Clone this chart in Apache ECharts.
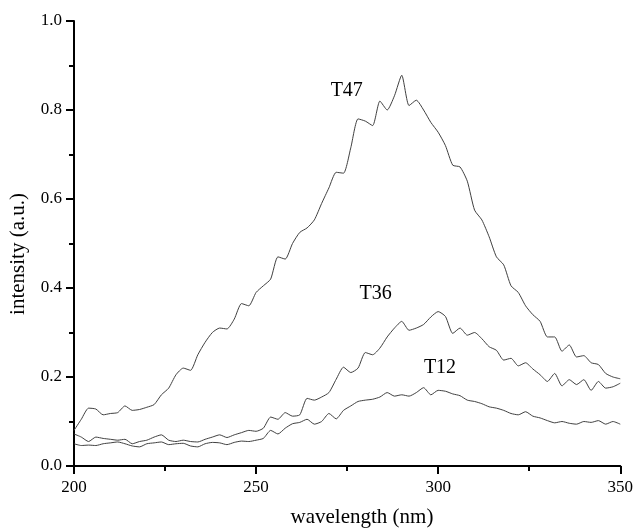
<!DOCTYPE html>
<html>
<head>
<meta charset="utf-8">
<script src="https://cdn.jsdelivr.net/npm/echarts@6/dist/echarts.min.js"></script>
<style>html,body{margin:0;padding:0;background:#fff}#c{width:636px;height:528px}</style>
</head>
<body>
<div id="c"></div>
<script>
const wavelength = [200,202,204,206,208,210,212,214,216,218,220,222,224,226,228,230,232,234,236,238,240,242,244,246,248,250,252,254,256,258,260,262,264,266,268,270,272,274,276,278,280,282,284,286,288,290,292,294,296,298,300,302,304,306,308,310,312,314,316,318,320,322,324,326,328,330,332,334,336,338,340,342,344,346,348,350];
const T47 = [0.08,0.105,0.13,0.128,0.115,0.118,0.12,0.135,0.125,0.127,0.132,0.138,0.16,0.175,0.205,0.22,0.215,0.25,0.278,0.3,0.31,0.308,0.33,0.365,0.36,0.39,0.405,0.42,0.47,0.465,0.5,0.525,0.535,0.553,0.59,0.625,0.66,0.658,0.715,0.78,0.775,0.765,0.82,0.8,0.832,0.878,0.81,0.822,0.8,0.772,0.75,0.72,0.676,0.672,0.64,0.575,0.553,0.515,0.47,0.452,0.405,0.39,0.36,0.34,0.325,0.29,0.29,0.258,0.272,0.245,0.248,0.232,0.228,0.208,0.2,0.196];
const T36 = [0.072,0.065,0.055,0.065,0.062,0.06,0.058,0.06,0.05,0.055,0.058,0.065,0.07,0.058,0.055,0.058,0.055,0.054,0.06,0.065,0.07,0.064,0.07,0.075,0.08,0.078,0.085,0.11,0.105,0.12,0.112,0.115,0.152,0.148,0.155,0.165,0.195,0.222,0.21,0.22,0.255,0.25,0.265,0.29,0.31,0.325,0.305,0.31,0.318,0.335,0.347,0.336,0.298,0.31,0.294,0.3,0.286,0.268,0.26,0.238,0.242,0.225,0.232,0.218,0.205,0.19,0.208,0.18,0.194,0.183,0.194,0.17,0.19,0.175,0.178,0.186];
const T12 = [0.05,0.046,0.047,0.046,0.05,0.052,0.054,0.05,0.045,0.043,0.05,0.052,0.054,0.048,0.05,0.051,0.045,0.043,0.05,0.053,0.052,0.048,0.053,0.056,0.055,0.058,0.062,0.08,0.072,0.085,0.095,0.098,0.105,0.094,0.1,0.118,0.106,0.125,0.135,0.145,0.148,0.15,0.155,0.165,0.157,0.16,0.157,0.165,0.176,0.16,0.17,0.168,0.162,0.158,0.148,0.145,0.14,0.133,0.13,0.125,0.118,0.115,0.122,0.112,0.108,0.102,0.097,0.1,0.096,0.094,0.1,0.098,0.102,0.094,0.1,0.094];
const seriesNames = ['T47','T36','T12'];
const labelAt = [[274.9,0.843],[282.8,0.387],[300.5,0.22]];

const FONT = '"Liberation Serif","Times New Roman",serif';
const chart = echarts.init(document.getElementById('c'), null, {renderer:'canvas'});
const allData = [T47, T36, T12];
const series = allData.map((vals, i) => ({
  name: seriesNames[i],
  type: 'line',
  data: wavelength.map((w, j) => [w, vals[j]]),
  showSymbol: false,
  smooth: 0.2,
  lineStyle: {color: '#404040', width: 1},
  animation: false,
  markPoint: {
    symbol: 'circle', symbolSize: 0,
    label: {show: true, formatter: seriesNames[i], color: '#000', fontFamily: FONT, fontSize: 20, position: 'inside'},
    data: [{coord: labelAt[i]}]
  }
}));

chart.setOption({
  animation: false,
  backgroundColor: '#fff',
  grid: {left: 74, right: 14, top: 21, bottom: 62, containLabel: false},
  xAxis: {
    type: 'value', min: 200, max: 350, interval: 50,
    axisLine: {show: true, lineStyle: {color: '#000', width: 2}},
    axisTick: {show: true, inside: false, length: 8, lineStyle: {color: '#000', width: 2}},
    minorTick: {show: true, splitNumber: 2, length: 5, lineStyle: {color: '#000', width: 2}},
    splitLine: {show: false},
    axisLabel: {color: '#000', fontFamily: FONT, fontSize: 17, margin: 13}
  },
  yAxis: {
    type: 'value', min: 0, max: 1.0, interval: 0.2,
    axisLine: {show: true, lineStyle: {color: '#000', width: 2}},
    axisTick: {show: true, inside: false, length: 8, lineStyle: {color: '#000', width: 2}},
    minorTick: {show: true, splitNumber: 2, length: 5, lineStyle: {color: '#000', width: 2}},
    splitLine: {show: false},
    axisLabel: {color: '#000', fontFamily: FONT, fontSize: 17, margin: 12, formatter: v => v.toFixed(1)}
  },
  graphic: [
    {type: 'text', x: 362, y: 517, style: {text: 'wavelength (nm)', font: '21px ' + FONT, fill: '#000', textAlign: 'center', textVerticalAlign: 'middle'}},
    {type: 'text', x: 18, y: 254, rotation: Math.PI / 2, style: {text: 'intensity (a.u.)', font: '21px ' + FONT, fill: '#000', textAlign: 'center', textVerticalAlign: 'middle'}}
  ],
  series: series
});
</script>
</body>
</html>
